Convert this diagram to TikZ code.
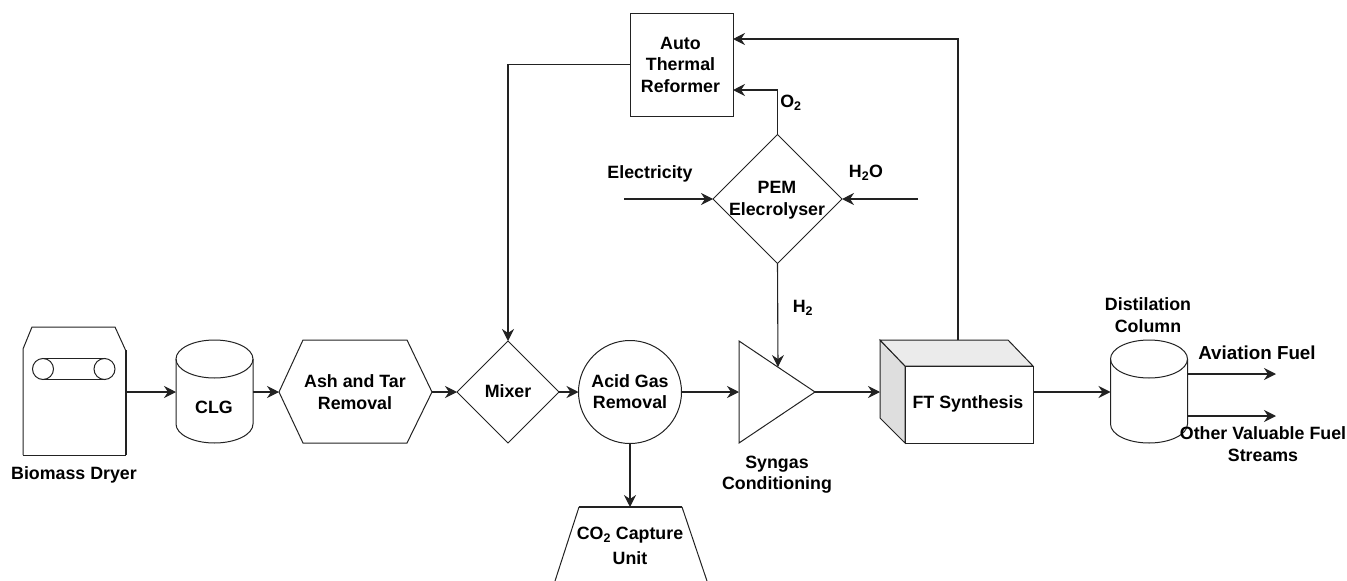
\documentclass[tikz,border=0pt]{standalone}
\usepackage{fontspec}
\setmainfont{Liberation Sans}
\usetikzlibrary{arrows.meta,shapes.geometric,calc}
\definecolor{lineink}{HTML}{222222}
\definecolor{facegray}{HTML}{DEDEDE}
\definecolor{topgray}{HTML}{EBEBEB}
\tikzset{
  x=1pt,y=-1pt,
  shapeline/.style={line width=1pt,draw=lineink,line join=miter},
  flow/.style={-{Stealth[length=12pt,width=12pt,inset=4pt]},line width=1.1pt,draw=lineink},
  strongflow/.style={flow,line width=2pt},
  unit/.style={draw=lineink,line width=1pt,inner sep=0pt,outer sep=0pt},
  boxunit/.style={unit,rectangle,minimum width=103pt,minimum height=103pt},
  diamondunit/.style={unit,diamond,aspect=1},
  label/.style={inner sep=0pt,outer sep=0pt,align=center,text=black,
    font=\fontsize{17.8}{21.5}\selectfont\bfseries},
  pics/cyl/.style={code={
    \draw[shapeline] (-38.5,-32.5) -- (-38.5,32.5) .. controls (-38.5,43) and (-21.3,51.5) .. (0,51.5)
       .. controls (21.3,51.5) and (38.5,43) .. (38.5,32.5) -- (38.5,-32.5);
    \draw[shapeline] (0,-32.5) ellipse [x radius=38.5,y radius=19];
  }}
}
\begin{document}
\begin{tikzpicture}
\useasboundingbox (0,0) rectangle (1347,581);

% Biomass dryer
\draw[shapeline] (23,455) -- (23,349) -- (32,327) -- (115,327) -- (125.5,350);
\draw[shapeline,line width=2pt] (125.5,350) -- (125.5,455);
\draw[shapeline] (23,455) -- (125.5,455);
\node[unit,circle,minimum size=21pt] (beltL) at (43,369) {};
\node[unit,circle,minimum size=21pt] (beltR) at (104.5,369) {};
\draw[shapeline] (beltL.north) -- (beltR.north);
\draw[shapeline] (beltL.south) -- (beltR.south);
\coordinate (dryerOut) at (125.5,392);
\node[label] (dryerText) at (74,475) {Biomass Dryer};

% CLG
\pic at (214.5,391.5) {cyl};
\coordinate (clgIn) at (176,392);
\coordinate (clgOut) at (253,392);
\node[label] (clgText) at (214,407) {CLG};

% Ash and tar removal
\draw[shapeline] (279,392) -- (303,340) -- (407,340) -- (432,392) -- (407,443) -- (303,443) -- cycle;
\coordinate (ashIn) at (279,392);
\coordinate (ashOut) at (432,392);
\node[label] (ashText) at (355,392) {Ash and Tar\\Removal};

% Mixer
\node[diamondunit,minimum width=102pt,minimum height=102pt] (mixer) at (508,392) {};
\node[label] (mixerText) at (508,391.5) {Mixer};

% Acid gas removal
\node[unit,circle,minimum size=103pt] (acid) at (630,392) {};
\node[label] (acidText) at (630,391.5) {Acid Gas\\Removal};

% Syngas conditioning
\draw[shapeline] (739,341) -- (739,443) -- (815,392) -- cycle;
\coordinate (synIn) at (739,392);
\coordinate (synOut) at (815,392);
\coordinate (synTop) at (778,367);
\node[label] (synText) at (777,474.5) {Syngas\\Conditioning};

% CO2 capture unit
\draw[shapeline] (555,581) -- (579,507);
\draw[shapeline,line width=2pt] (579,507) -- (682,507);
\draw[shapeline] (682,507) -- (707,581);
\coordinate (capIn) at (630,507);
\node[label,font=\fontsize{17.8}{25.5}\selectfont\bfseries] (capText) at (630,546) {CO\textsubscript{2} Capture\\Unit};

% FT synthesis
\filldraw[shapeline,fill=facegray] (880,340) -- (905,366) -- (905,443) -- (880,418) -- cycle;
\filldraw[shapeline,fill=topgray] (880,340) -- (1008,340) -- (1033,366) -- (905,366) -- cycle;
\draw[shapeline] (905,366) -- (1033,366) -- (1033,443) -- (905,443) -- cycle;
\coordinate (ftIn) at (880,392);
\coordinate (ftOut) at (1033,392);
\coordinate (ftTop) at (958,340);
\node[label] (ftText) at (968,404) {FT Synthesis};

% Distillation column
\pic at (1149,391.5) {cyl};
\coordinate (colIn) at (1110.5,392);
\coordinate (colA) at (1187.5,374);
\coordinate (colB) at (1187.5,416);
\coordinate (aviaEnd) at (1276,374);
\coordinate (otherEnd) at (1276,416);
\node[label] (colText) at (1148,315) {Distilation\\Column};
\node[label,font=\fontsize{18.8}{21.5}\selectfont\bfseries] (aviaText) at (1257,353) {Aviation Fuel};
\node[label] (otherText) at (1263,444) {Other Valuable Fuel\\Streams};

% Auto thermal reformer
\node[boxunit] (atr) at (681.5,64.5) {};
\node[label] (atrText) at (680.5,64.5) {Auto\\Thermal\\Reformer};
\coordinate (atrFT) at (733,39);
\coordinate (atrO) at (733,90);

% PEM electrolyser
\node[diamondunit,minimum width=129pt,minimum height=129pt] (pem) at (777.5,199) {};
\node[label] (pemText) at (777,200) {PEM\\Elecrolyser};
\coordinate (elecStart) at (624,199);
\coordinate (waterStart) at (918,199);
\node[label] (elecText) at (650,174) {Electricity};
\node[label] (waterText) at (866,173) {H\textsubscript{2}O};
\node[label] (oText) at (791,103) {O\textsubscript{2}};
\node[label] (hText) at (803,308) {H\textsubscript{2}};

% Connectors
\draw[flow] (dryerOut) -- (clgIn);
\draw[flow] (clgOut) -- (ashIn);
\draw[flow] (ashOut) -- (mixer.west);
\draw[flow] (mixer.east) -- (acid.west);
\draw[flow] (acid.east) -- (synIn);
\draw[flow] (synOut) -- (ftIn);
\draw[flow] (ftOut) -- (colIn);
\draw[flow] (acid.south) -- (capIn);
\draw[flow] (atr.west) -| (mixer.north);
\draw[flow] (ftTop) |- (atrFT);
\draw[flow] (pem.north) |- (atrO);
\draw[flow] (elecStart) -- (pem.west);
\draw[flow] (waterStart) -- (pem.east);
\draw[flow] (pem.south) -- (synTop);
\draw[strongflow] (colA) -- (aviaEnd);
\draw[strongflow] (colB) -- (otherEnd);
\end{tikzpicture}
\end{document}
